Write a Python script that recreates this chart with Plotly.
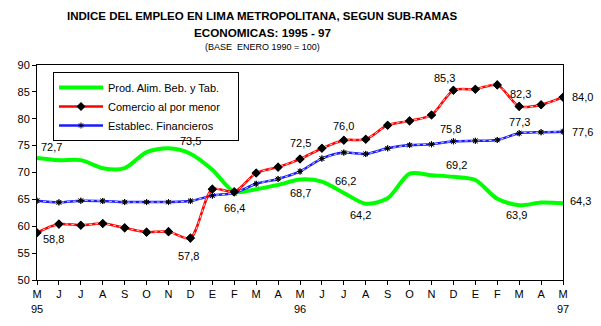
import plotly.graph_objects as go

# ---------------- data ----------------
months = ["M", "J", "J", "A", "S", "O", "N", "D", "E", "F", "M", "A",
          "M", "J", "J", "A", "S", "O", "N", "D", "E", "F", "M", "A", "M"]
year_marks = {0: "95", 12: "96", 24: "97"}

alim = [72.7, 72.3, 72.3, 70.8, 70.8, 73.8, 74.5, 73.5, 70.5, 66.4, 66.9, 67.7,
        68.7, 68.3, 66.2, 64.2, 65.2, 69.8, 69.5, 69.2, 68.6, 65.1, 63.9, 64.4, 64.3]
comercio = [58.8, 60.4, 60.2, 60.5, 59.7, 58.9, 59.0, 57.8, 66.9, 66.4, 69.9, 71.0,
            72.5, 74.5, 76.0, 76.2, 78.8, 79.6, 80.7, 85.3, 85.5, 86.3, 82.3, 82.6, 84.0]
financ = [64.75, 64.45, 64.75, 64.7, 64.5, 64.5, 64.5, 64.7, 65.7, 66.2, 67.9, 68.8,
          70.2, 72.6, 73.7, 73.45, 74.5, 75.1, 75.25, 75.8, 75.9, 76.05, 77.3, 77.5, 77.6]

names = ["Prod. Alim. Beb. y Tab.", "Comercio al por menor", "Establec. Financieros"]

# labelled points (indices)
alim_labels = [0, 7, 9, 12, 14, 15, 19, 22, 24]
comercio_labels = [0, 7, 12, 14, 19, 22, 24]
financ_labels = [19, 22, 24]

# ---------------- layout helpers ----------------
FONT = "Liberation Sans, Arial, sans-serif"
x = list(range(len(months)))
ticktext = [m + ("<br>" + year_marks[i] if i in year_marks else "") for i, m in enumerate(months)]

fig = go.Figure()

line_shape = dict(shape="spline", smoothing=0.8)
PAD = "\u00a0" * 4

# green
fig.add_trace(go.Scatter(x=x, y=alim, mode="lines", name=names[0] + PAD, legendrank=1,
                         line=dict(color="#00FF00", width=4, **line_shape)))
# blue
blue_marker = dict(symbol="asterisk-open", size=5, color="black",
                   line=dict(color="black", width=1))
fig.add_trace(go.Scatter(x=x, y=financ, mode="lines+markers", name=names[2] + PAD, legendrank=3,
                         line=dict(color="#1a1aff", width=2.5, **line_shape),
                         marker=blue_marker))
fig.add_trace(go.Scatter(x=x, y=financ, mode="lines", showlegend=False, hoverinfo="skip",
                         line=dict(color="white", width=0.8, dash="dot", **line_shape)))
fig.add_trace(go.Scatter(x=x, y=financ, mode="markers", showlegend=False, hoverinfo="skip",
                         marker=blue_marker))
# red
red_marker = dict(symbol="diamond", size=7, color="black")
fig.add_trace(go.Scatter(x=x, y=comercio, mode="lines+markers", name=names[1] + PAD, legendrank=2,
                         line=dict(color="#FF0000", width=2.5, **line_shape),
                         marker=red_marker))
fig.add_trace(go.Scatter(x=x, y=comercio, mode="lines", showlegend=False, hoverinfo="skip",
                         line=dict(color="white", width=0.8, dash="dot", **line_shape)))
fig.add_trace(go.Scatter(x=x, y=comercio, mode="markers", showlegend=False, hoverinfo="skip",
                         marker=red_marker))

def fmt(v):
    return f"{v:.1f}".replace(".", ",")

# label offsets (pixels): positive yshift = up
alim_off = {0: (14, 11), 7: (0, 13), 9: (0, -16), 12: (0, -14), 14: (2, 12),
            15: (-5, -11), 19: (3, 12), 22: (-3, -10), 24: (17, 2)}
comercio_off = {0: (16, -6), 7: (-2, -18), 12: (0, 16), 14: (0, 14),
                19: (-9, 12), 22: (1, 12), 24: (19, 0)}
financ_off = {19: (-3, 12), 22: (0, 11), 24: (19, 0)}

annotations = []
for series, idxs, offs in [(alim, alim_labels, alim_off),
                           (comercio, comercio_labels, comercio_off),
                           (financ, financ_labels, financ_off)]:
    for i in idxs:
        dx, dy = offs[i]
        annotations.append(dict(x=i, y=series[i], xref="x", yref="y", text=fmt(series[i]),
                                showarrow=False, xshift=dx, yshift=dy,
                                font=dict(family=FONT, size=11, color="black")))

# titles
W, H = 601, 326
ML, MR, MT, MB = 37, 38, 65, 46
pw, ph = W - ML - MR, H - MT - MB

def px_x(p):
    return (p - ML) / pw

def px_y(p):
    return (H - MB - p) / ph

title_lines = [
    ("<b>INDICE DEL EMPLEO EN LIMA METROPOLITANA, SEGUN SUB-RAMAS</b>", 11.5, 16.5),
    ("<b>ECONOMICAS: 1995 - 97</b>", 11.7, 32.5),
    ("(BASE\u00a0\u00a0ENERO 1990 = 100)", 9, 47),
]
for txt, sz, ypx in title_lines:
    annotations.append(dict(x=px_x(262), y=px_y(ypx), xref="paper", yref="paper",
                            text=txt, showarrow=False, xanchor="center", yanchor="middle",
                            font=dict(family=FONT, size=sz, color="black")))

fig.update_layout(
    width=W, height=H,
    margin=dict(l=ML, r=MR, t=MT, b=MB, pad=0),
    paper_bgcolor="white", plot_bgcolor="white",
    font=dict(family=FONT, size=11, color="black"),
    showlegend=True,
    legend=dict(x=px_x(53), y=px_y(72), xanchor="left", yanchor="top",
                bordercolor="black", borderwidth=1, bgcolor="white",
                font=dict(family=FONT, size=11, color="black"),
                traceorder="normal", tracegroupgap=0, itemwidth=44),
    annotations=annotations,
)
fig.update_xaxes(range=[0, 24], tickmode="array", tickvals=x, ticktext=ticktext,
                 showline=True, linecolor="black", linewidth=1, mirror=True,
                 ticks="outside", ticklen=4, tickcolor="black", showgrid=False,
                 zeroline=False, tickfont=dict(family=FONT, size=11, color="black"))
fig.update_yaxes(range=[50, 90], tickmode="linear", tick0=50, dtick=5,
                 showline=True, linecolor="black", linewidth=1, mirror=True,
                 ticks="outside", ticklen=4, tickcolor="black", showgrid=False,
                 zeroline=False, tickfont=dict(family=FONT, size=11, color="black"))

fig.write_html("out.html")
